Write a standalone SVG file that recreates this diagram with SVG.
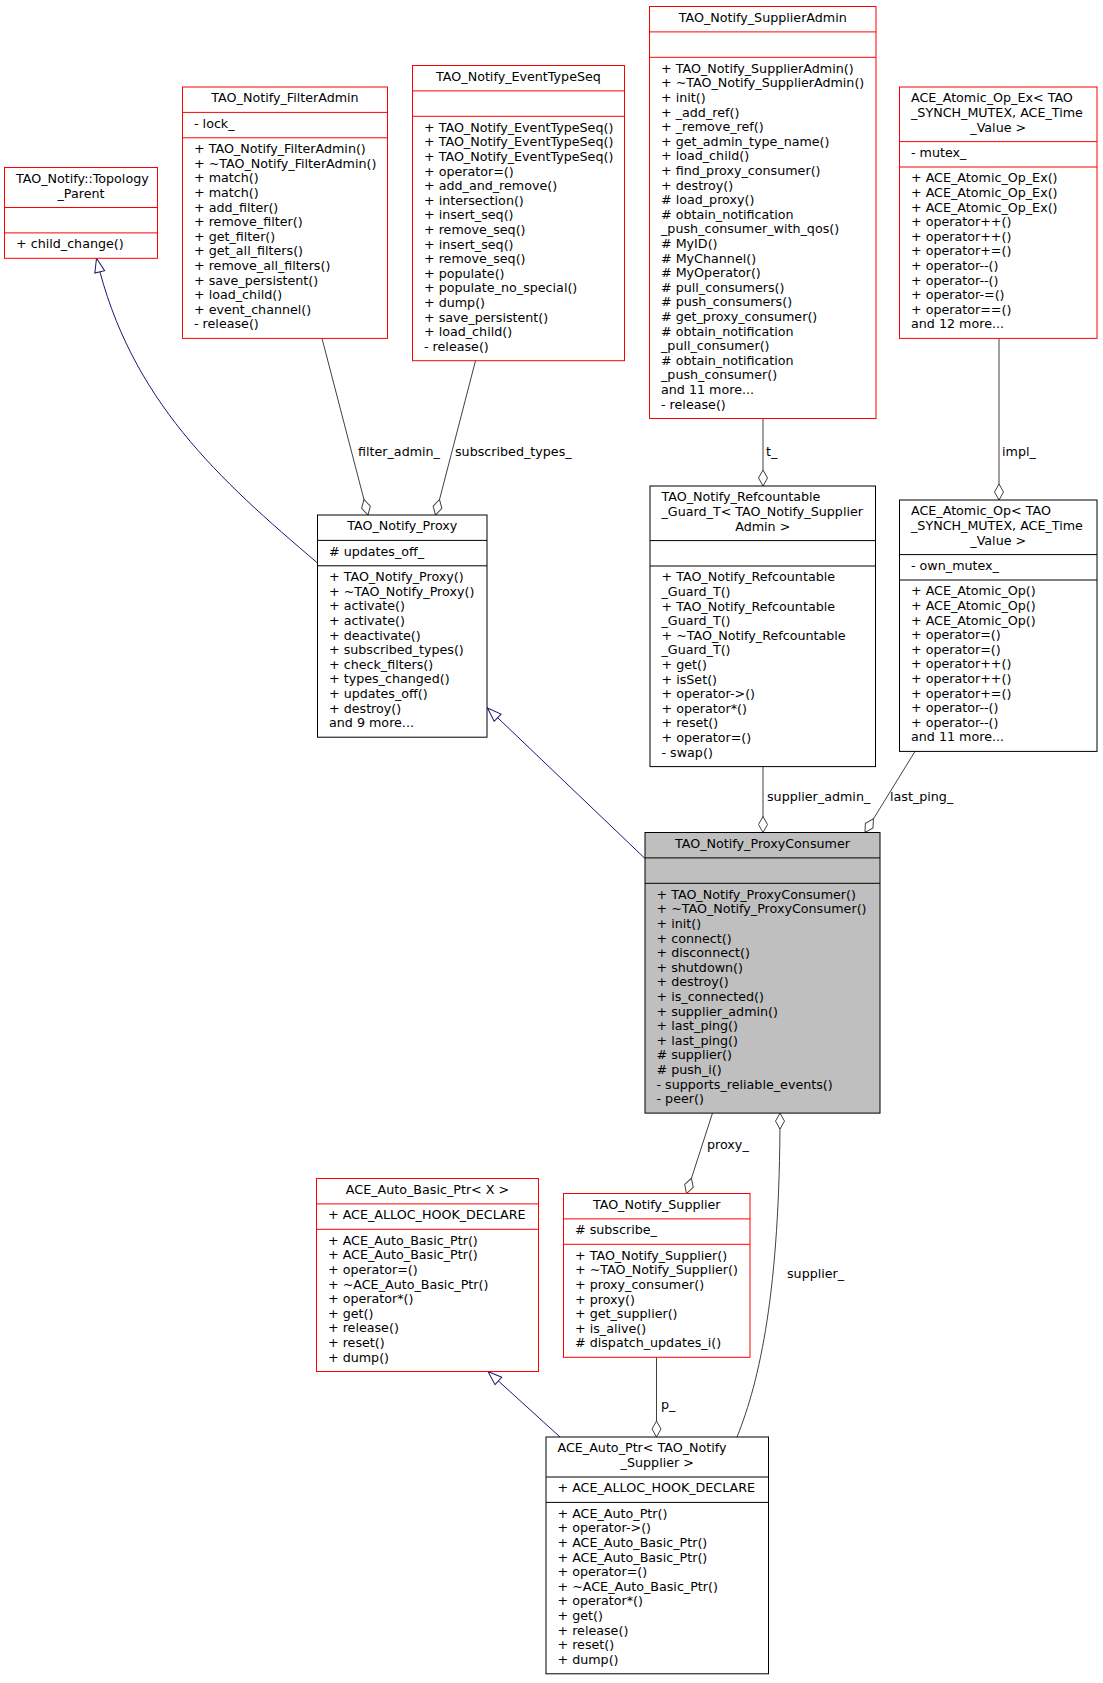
<svg xmlns="http://www.w3.org/2000/svg" width="1103" height="1683" viewBox="0 0 1103 1683">
<style>
text{font-family:"DejaVu Sans","Liberation Sans",sans-serif;font-size:12.7px;fill:#000}
.c{text-anchor:middle}
.r rect,.r line{stroke:#ff0000;stroke-width:1}
.b rect,.b line{stroke:#000;stroke-width:1}
rect{fill:#fff}
.g rect{fill:#bfbfbf}
.u{fill:none;stroke:#404040;stroke-width:1}
.i{fill:none;stroke:#191970;stroke-width:1}
</style>
<defs>
<marker id="dia" markerUnits="userSpaceOnUse" viewBox="0 0 18 12" markerWidth="18" markerHeight="12" refX="17" refY="6" orient="auto"><polygon points="1,6 9,1.5 17,6 9,10.5" fill="#fff" stroke="#404040"/></marker>
<marker id="tri" markerUnits="userSpaceOnUse" viewBox="0 0 16 12" markerWidth="16" markerHeight="12" refX="15" refY="6" orient="auto"><polygon points="1,1 15,6 1,11" fill="#fff" stroke="#191970"/></marker>
</defs>
<rect x="0" y="0" width="1103" height="1683" fill="#fff" style="fill:#fff"/>

<g id="edges">
<path class="i" d="M317.5,563 C220,480 130,400 96.5,258.3" marker-end="url(#tri)"/>
<path class="i" d="M645,858.5 L487.5,708" marker-end="url(#tri)"/>
<path class="i" d="M560,1437 L488,1371.5" marker-end="url(#tri)"/>
<path class="u" d="M322,338.4 L368,515" marker-end="url(#dia)"/>
<path class="u" d="M475.5,360.7 L435.5,515" marker-end="url(#dia)"/>
<path class="u" d="M763,418.5 L763,486" marker-end="url(#dia)"/>
<path class="u" d="M999,338.4 L999,500" marker-end="url(#dia)"/>
<path class="u" d="M763,766.6 L763,832.5" marker-end="url(#dia)"/>
<path class="u" d="M915,751.4 L865,832.5" marker-end="url(#dia)"/>
<path class="u" d="M712.5,1113.1 L686.5,1193.5" marker-end="url(#dia)"/>
<path class="u" d="M737,1437 C760,1380 780,1290 780,1113.1" marker-end="url(#dia)"/>
<path class="u" d="M656.5,1357.3 L656.5,1437" marker-end="url(#dia)"/>
<text x="358" y="456">filter_admin_</text>
<text x="455" y="456">subscribed_types_</text>
<text x="766" y="456">t_</text>
<text x="1002" y="456">impl_</text>
<text x="767" y="801">supplier_admin_</text>
<text x="890" y="801">last_ping_</text>
<text x="707" y="1149">proxy_</text>
<text x="787" y="1278">supplier_</text>
<text x="661" y="1409">p_</text>
</g>

<g id="topology_parent" class="r">
<rect x="4.5" y="167.5" width="153" height="90.8"/>
<line x1="4.5" y1="207.5" x2="157.5" y2="207.5"/>
<line x1="4.5" y1="232.9" x2="157.5" y2="232.9"/>
<text x="16" y="182.9">TAO_Notify::Topology</text>
<text class="c" x="81" y="197.5">_Parent</text>
<text x="16" y="248.3">+ child_change()</text>
</g>

<g id="filter_admin" class="r">
<rect x="182.5" y="87" width="205" height="251.4"/>
<line x1="182.5" y1="112.4" x2="387.5" y2="112.4"/>
<line x1="182.5" y1="137.8" x2="387.5" y2="137.8"/>
<text class="c" x="285" y="102.4">TAO_Notify_FilterAdmin</text>
<text x="194" y="127.8">- lock_</text>
<text x="194" y="153.2"><tspan x="194">+ TAO_Notify_FilterAdmin()</tspan><tspan x="194" dy="14.6">+ ~TAO_Notify_FilterAdmin()</tspan><tspan x="194" dy="14.6">+ match()</tspan><tspan x="194" dy="14.6">+ match()</tspan><tspan x="194" dy="14.6">+ add_filter()</tspan><tspan x="194" dy="14.6">+ remove_filter()</tspan><tspan x="194" dy="14.6">+ get_filter()</tspan><tspan x="194" dy="14.6">+ get_all_filters()</tspan><tspan x="194" dy="14.6">+ remove_all_filters()</tspan><tspan x="194" dy="14.6">+ save_persistent()</tspan><tspan x="194" dy="14.6">+ load_child()</tspan><tspan x="194" dy="14.6">+ event_channel()</tspan><tspan x="194" dy="14.6">- release()</tspan></text>
</g>

<g id="event_type_seq" class="r">
<rect x="412.5" y="65.5" width="212" height="295.2"/>
<line x1="412.5" y1="90.9" x2="624.5" y2="90.9"/>
<line x1="412.5" y1="116.3" x2="624.5" y2="116.3"/>
<text class="c" x="518.5" y="80.9">TAO_Notify_EventTypeSeq</text>
<text x="424" y="131.7"><tspan x="424">+ TAO_Notify_EventTypeSeq()</tspan><tspan x="424" dy="14.6">+ TAO_Notify_EventTypeSeq()</tspan><tspan x="424" dy="14.6">+ TAO_Notify_EventTypeSeq()</tspan><tspan x="424" dy="14.6">+ operator=()</tspan><tspan x="424" dy="14.6">+ add_and_remove()</tspan><tspan x="424" dy="14.6">+ intersection()</tspan><tspan x="424" dy="14.6">+ insert_seq()</tspan><tspan x="424" dy="14.6">+ remove_seq()</tspan><tspan x="424" dy="14.6">+ insert_seq()</tspan><tspan x="424" dy="14.6">+ remove_seq()</tspan><tspan x="424" dy="14.6">+ populate()</tspan><tspan x="424" dy="14.6">+ populate_no_special()</tspan><tspan x="424" dy="14.6">+ dump()</tspan><tspan x="424" dy="14.6">+ save_persistent()</tspan><tspan x="424" dy="14.6">+ load_child()</tspan><tspan x="424" dy="14.6">- release()</tspan></text>
</g>

<g id="supplier_admin" class="r">
<rect x="649.5" y="6.5" width="226.5" height="412"/>
<line x1="649.5" y1="31.9" x2="876" y2="31.9"/>
<line x1="649.5" y1="57.3" x2="876" y2="57.3"/>
<text class="c" x="762.75" y="21.9">TAO_Notify_SupplierAdmin</text>
<text x="661" y="72.7"><tspan x="661">+ TAO_Notify_SupplierAdmin()</tspan><tspan x="661" dy="14.6">+ ~TAO_Notify_SupplierAdmin()</tspan><tspan x="661" dy="14.6">+ init()</tspan><tspan x="661" dy="14.6">+ _add_ref()</tspan><tspan x="661" dy="14.6">+ _remove_ref()</tspan><tspan x="661" dy="14.6">+ get_admin_type_name()</tspan><tspan x="661" dy="14.6">+ load_child()</tspan><tspan x="661" dy="14.6">+ find_proxy_consumer()</tspan><tspan x="661" dy="14.6">+ destroy()</tspan><tspan x="661" dy="14.6"># load_proxy()</tspan><tspan x="661" dy="14.6"># obtain_notification</tspan><tspan x="661" dy="14.6">_push_consumer_with_qos()</tspan><tspan x="661" dy="14.6"># MyID()</tspan><tspan x="661" dy="14.6"># MyChannel()</tspan><tspan x="661" dy="14.6"># MyOperator()</tspan><tspan x="661" dy="14.6"># pull_consumers()</tspan><tspan x="661" dy="14.6"># push_consumers()</tspan><tspan x="661" dy="14.6"># get_proxy_consumer()</tspan><tspan x="661" dy="14.6"># obtain_notification</tspan><tspan x="661" dy="14.6">_pull_consumer()</tspan><tspan x="661" dy="14.6"># obtain_notification</tspan><tspan x="661" dy="14.6">_push_consumer()</tspan><tspan x="661" dy="14.6">and 11 more...</tspan><tspan x="661" dy="14.6">- release()</tspan></text>
</g>

<g id="atomic_op_ex" class="r">
<rect x="899.5" y="87" width="197.5" height="251.4"/>
<line x1="899.5" y1="141.6" x2="1097" y2="141.6"/>
<line x1="899.5" y1="167" x2="1097" y2="167"/>
<text x="911" y="102.4">ACE_Atomic_Op_Ex&lt; TAO</text>
<text x="911" y="117">_SYNCH_MUTEX, ACE_Time</text>
<text class="c" x="998.25" y="131.6">_Value &gt;</text>
<text x="911" y="157">- mutex_</text>
<text x="911" y="182.4"><tspan x="911">+ ACE_Atomic_Op_Ex()</tspan><tspan x="911" dy="14.6">+ ACE_Atomic_Op_Ex()</tspan><tspan x="911" dy="14.6">+ ACE_Atomic_Op_Ex()</tspan><tspan x="911" dy="14.6">+ operator++()</tspan><tspan x="911" dy="14.6">+ operator++()</tspan><tspan x="911" dy="14.6">+ operator+=()</tspan><tspan x="911" dy="14.6">+ operator--()</tspan><tspan x="911" dy="14.6">+ operator--()</tspan><tspan x="911" dy="14.6">+ operator-=()</tspan><tspan x="911" dy="14.6">+ operator==()</tspan><tspan x="911" dy="14.6">and 12 more...</tspan></text>
</g>

<g id="proxy" class="b">
<rect x="317.5" y="515" width="169.5" height="222.2"/>
<line x1="317.5" y1="540.4" x2="487" y2="540.4"/>
<line x1="317.5" y1="565.8" x2="487" y2="565.8"/>
<text class="c" x="402.25" y="530.4">TAO_Notify_Proxy</text>
<text x="329" y="555.8"># updates_off_</text>
<text x="329" y="581.2"><tspan x="329">+ TAO_Notify_Proxy()</tspan><tspan x="329" dy="14.6">+ ~TAO_Notify_Proxy()</tspan><tspan x="329" dy="14.6">+ activate()</tspan><tspan x="329" dy="14.6">+ activate()</tspan><tspan x="329" dy="14.6">+ deactivate()</tspan><tspan x="329" dy="14.6">+ subscribed_types()</tspan><tspan x="329" dy="14.6">+ check_filters()</tspan><tspan x="329" dy="14.6">+ types_changed()</tspan><tspan x="329" dy="14.6">+ updates_off()</tspan><tspan x="329" dy="14.6">+ destroy()</tspan><tspan x="329" dy="14.6">and 9 more...</tspan></text>
</g>

<g id="refcountable_guard" class="b">
<rect x="650" y="486" width="225.5" height="280.6"/>
<line x1="650" y1="540.6" x2="875.5" y2="540.6"/>
<line x1="650" y1="566" x2="875.5" y2="566"/>
<text x="661.5" y="501.4">TAO_Notify_Refcountable</text>
<text x="661.5" y="516">_Guard_T&lt; TAO_Notify_Supplier</text>
<text class="c" x="762.75" y="530.6">Admin &gt;</text>
<text x="661.5" y="581.4"><tspan x="661.5">+ TAO_Notify_Refcountable</tspan><tspan x="661.5" dy="14.6">_Guard_T()</tspan><tspan x="661.5" dy="14.6">+ TAO_Notify_Refcountable</tspan><tspan x="661.5" dy="14.6">_Guard_T()</tspan><tspan x="661.5" dy="14.6">+ ~TAO_Notify_Refcountable</tspan><tspan x="661.5" dy="14.6">_Guard_T()</tspan><tspan x="661.5" dy="14.6">+ get()</tspan><tspan x="661.5" dy="14.6">+ isSet()</tspan><tspan x="661.5" dy="14.6">+ operator-&gt;()</tspan><tspan x="661.5" dy="14.6">+ operator*()</tspan><tspan x="661.5" dy="14.6">+ reset()</tspan><tspan x="661.5" dy="14.6">+ operator=()</tspan><tspan x="661.5" dy="14.6">- swap()</tspan></text>
</g>

<g id="atomic_op" class="b">
<rect x="899.5" y="500" width="197.5" height="251.4"/>
<line x1="899.5" y1="554.6" x2="1097" y2="554.6"/>
<line x1="899.5" y1="580" x2="1097" y2="580"/>
<text x="911" y="515.4">ACE_Atomic_Op&lt; TAO</text>
<text x="911" y="530">_SYNCH_MUTEX, ACE_Time</text>
<text class="c" x="998.25" y="544.6">_Value &gt;</text>
<text x="911" y="570">- own_mutex_</text>
<text x="911" y="595.4"><tspan x="911">+ ACE_Atomic_Op()</tspan><tspan x="911" dy="14.6">+ ACE_Atomic_Op()</tspan><tspan x="911" dy="14.6">+ ACE_Atomic_Op()</tspan><tspan x="911" dy="14.6">+ operator=()</tspan><tspan x="911" dy="14.6">+ operator=()</tspan><tspan x="911" dy="14.6">+ operator++()</tspan><tspan x="911" dy="14.6">+ operator++()</tspan><tspan x="911" dy="14.6">+ operator+=()</tspan><tspan x="911" dy="14.6">+ operator--()</tspan><tspan x="911" dy="14.6">+ operator--()</tspan><tspan x="911" dy="14.6">and 11 more...</tspan></text>
</g>

<g id="proxy_consumer" class="b g">
<rect x="645" y="832.5" width="235" height="280.6"/>
<line x1="645" y1="857.9" x2="880" y2="857.9"/>
<line x1="645" y1="883.3" x2="880" y2="883.3"/>
<text class="c" x="762.5" y="847.9">TAO_Notify_ProxyConsumer</text>
<text x="656.5" y="898.7"><tspan x="656.5">+ TAO_Notify_ProxyConsumer()</tspan><tspan x="656.5" dy="14.6">+ ~TAO_Notify_ProxyConsumer()</tspan><tspan x="656.5" dy="14.6">+ init()</tspan><tspan x="656.5" dy="14.6">+ connect()</tspan><tspan x="656.5" dy="14.6">+ disconnect()</tspan><tspan x="656.5" dy="14.6">+ shutdown()</tspan><tspan x="656.5" dy="14.6">+ destroy()</tspan><tspan x="656.5" dy="14.6">+ is_connected()</tspan><tspan x="656.5" dy="14.6">+ supplier_admin()</tspan><tspan x="656.5" dy="14.6">+ last_ping()</tspan><tspan x="656.5" dy="14.6">+ last_ping()</tspan><tspan x="656.5" dy="14.6"># supplier()</tspan><tspan x="656.5" dy="14.6"># push_i()</tspan><tspan x="656.5" dy="14.6">- supports_reliable_events()</tspan><tspan x="656.5" dy="14.6">- peer()</tspan></text>
</g>

<g id="auto_basic_ptr" class="r">
<rect x="316.5" y="1178.5" width="222" height="193"/>
<line x1="316.5" y1="1203.9" x2="538.5" y2="1203.9"/>
<line x1="316.5" y1="1229.3" x2="538.5" y2="1229.3"/>
<text class="c" x="427.5" y="1193.9">ACE_Auto_Basic_Ptr&lt; X &gt;</text>
<text x="328" y="1219.3">+ ACE_ALLOC_HOOK_DECLARE</text>
<text x="328" y="1244.7"><tspan x="328">+ ACE_Auto_Basic_Ptr()</tspan><tspan x="328" dy="14.6">+ ACE_Auto_Basic_Ptr()</tspan><tspan x="328" dy="14.6">+ operator=()</tspan><tspan x="328" dy="14.6">+ ~ACE_Auto_Basic_Ptr()</tspan><tspan x="328" dy="14.6">+ operator*()</tspan><tspan x="328" dy="14.6">+ get()</tspan><tspan x="328" dy="14.6">+ release()</tspan><tspan x="328" dy="14.6">+ reset()</tspan><tspan x="328" dy="14.6">+ dump()</tspan></text>
</g>

<g id="supplier" class="r">
<rect x="563.5" y="1193.5" width="186.5" height="163.8"/>
<line x1="563.5" y1="1218.9" x2="750" y2="1218.9"/>
<line x1="563.5" y1="1244.3" x2="750" y2="1244.3"/>
<text class="c" x="656.75" y="1208.9">TAO_Notify_Supplier</text>
<text x="575" y="1234.3"># subscribe_</text>
<text x="575" y="1259.7"><tspan x="575">+ TAO_Notify_Supplier()</tspan><tspan x="575" dy="14.6">+ ~TAO_Notify_Supplier()</tspan><tspan x="575" dy="14.6">+ proxy_consumer()</tspan><tspan x="575" dy="14.6">+ proxy()</tspan><tspan x="575" dy="14.6">+ get_supplier()</tspan><tspan x="575" dy="14.6">+ is_alive()</tspan><tspan x="575" dy="14.6"># dispatch_updates_i()</tspan></text>
</g>

<g id="auto_ptr" class="b">
<rect x="546" y="1437" width="222.5" height="236.8"/>
<line x1="546" y1="1477" x2="768.5" y2="1477"/>
<line x1="546" y1="1502.4" x2="768.5" y2="1502.4"/>
<text x="557.5" y="1452.4">ACE_Auto_Ptr&lt; TAO_Notify</text>
<text class="c" x="657.25" y="1467">_Supplier &gt;</text>
<text x="557.5" y="1492.4">+ ACE_ALLOC_HOOK_DECLARE</text>
<text x="557.5" y="1517.8"><tspan x="557.5">+ ACE_Auto_Ptr()</tspan><tspan x="557.5" dy="14.6">+ operator-&gt;()</tspan><tspan x="557.5" dy="14.6">+ ACE_Auto_Basic_Ptr()</tspan><tspan x="557.5" dy="14.6">+ ACE_Auto_Basic_Ptr()</tspan><tspan x="557.5" dy="14.6">+ operator=()</tspan><tspan x="557.5" dy="14.6">+ ~ACE_Auto_Basic_Ptr()</tspan><tspan x="557.5" dy="14.6">+ operator*()</tspan><tspan x="557.5" dy="14.6">+ get()</tspan><tspan x="557.5" dy="14.6">+ release()</tspan><tspan x="557.5" dy="14.6">+ reset()</tspan><tspan x="557.5" dy="14.6">+ dump()</tspan></text>
</g>
</svg>
